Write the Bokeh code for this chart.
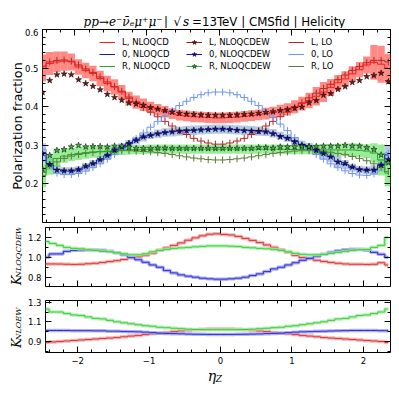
import numpy as np
from bokeh.plotting import figure
from bokeh.layouts import column, row
from bokeh.models import Range1d, FixedTicker, LinearAxis, Label, Legend, LegendItem
from bokeh.embed import file_html
from bokeh.resources import INLINE

# ---------------- data (bin centres of width 0.1 in eta_Z) ----------------
eta = np.round(np.arange(-2.45, 2.36, 0.1), 2)

L_nlo = [0.500,0.512,0.516,0.518,0.516,0.503,0.494,0.486,0.473,0.460,
         0.451,0.438,0.421,0.412,0.405,0.398,0.392,0.387,0.382,0.378,
         0.376,0.374,0.373,0.372,0.371,0.371,0.372,0.373,0.375,0.377,
         0.379,0.382,0.385,0.389,0.393,0.400,0.408,0.416,0.427,0.438,
         0.450,0.462,0.472,0.485,0.496,0.508,0.515,0.510,0.500]
L_err = [0.035,0.030,0.027,0.025,0.022,0.020,0.020,0.020,0.020,0.020,
         0.020,0.018,0.018,0.017,0.016,0.015,0.015,0.015,0.014,0.014,
         0.014,0.014,0.014,0.014,0.014,0.014,0.014,0.014,0.014,0.014,
         0.014,0.015,0.015,0.016,0.016,0.017,0.018,0.020,0.024,0.026,
         0.022,0.020,0.020,0.020,0.020,0.022,0.045,0.048,0.037]
L_ew = [0.437,0.468,0.483,0.485,0.483,0.470,0.460,0.453,0.444,0.432,
        0.424,0.417,0.410,0.407,0.404,0.398,0.394,0.390,0.386,0.383,
        0.381,0.380,0.379,0.378,0.378,0.378,0.378,0.379,0.380,0.381,
        0.383,0.385,0.387,0.390,0.393,0.396,0.399,0.410,0.416,0.430,
        0.434,0.445,0.452,0.463,0.468,0.478,0.481,0.487,0.465]
L_lo = [0.505,0.516,0.520,0.521,0.518,0.508,0.498,0.489,0.477,0.464,
        0.452,0.440,0.425,0.412,0.398,0.386,0.374,0.362,0.350,0.338,
        0.328,0.318,0.311,0.306,0.303,0.303,0.306,0.311,0.318,0.328,
        0.338,0.350,0.362,0.374,0.386,0.398,0.410,0.423,0.435,0.447,
        0.458,0.470,0.482,0.494,0.504,0.514,0.520,0.520,0.516]

Z_nlo = [0.280,0.252,0.237,0.233,0.233,0.236,0.244,0.252,0.262,0.273,
         0.285,0.295,0.304,0.312,0.320,0.326,0.330,0.333,0.335,0.337,
         0.338,0.339,0.340,0.341,0.342,0.342,0.341,0.340,0.339,0.338,
         0.337,0.335,0.331,0.325,0.319,0.311,0.302,0.296,0.288,0.278,
         0.270,0.258,0.250,0.242,0.237,0.235,0.236,0.248,0.275]
Z_err = [0.025,0.016,0.012,0.010,0.010,0.010,0.010,0.010,0.010,0.010,
         0.010,0.010,0.010,0.010,0.010,0.010,0.011,0.011,0.012,0.012,
         0.012,0.012,0.012,0.012,0.012,0.012,0.012,0.012,0.012,0.012,
         0.012,0.011,0.011,0.010,0.010,0.010,0.010,0.010,0.012,0.014,
         0.014,0.014,0.012,0.010,0.010,0.010,0.012,0.016,0.025]
Z_ew = [0.279,0.250,0.236,0.234,0.234,0.237,0.246,0.253,0.263,0.274,
        0.287,0.296,0.305,0.313,0.322,0.326,0.330,0.333,0.335,0.337,
        0.338,0.339,0.340,0.341,0.342,0.342,0.341,0.339,0.338,0.337,
        0.336,0.335,0.330,0.322,0.318,0.309,0.300,0.296,0.287,0.279,
        0.270,0.257,0.253,0.244,0.237,0.236,0.236,0.249,0.263]
Z_lo = [0.290,0.248,0.228,0.224,0.224,0.227,0.233,0.242,0.252,0.264,
        0.276,0.290,0.305,0.318,0.332,0.347,0.362,0.376,0.390,0.403,
        0.414,0.424,0.431,0.436,0.438,0.438,0.436,0.431,0.424,0.414,
        0.403,0.388,0.372,0.355,0.338,0.320,0.303,0.290,0.276,0.264,
        0.252,0.242,0.234,0.227,0.223,0.222,0.226,0.248,0.280]

R_nlo = [0.222,0.250,0.266,0.272,0.276,0.279,0.281,0.283,0.284,0.285,
         0.286,0.287,0.288,0.289,0.289,0.290,0.290,0.290,0.290,0.290,
         0.290,0.290,0.290,0.290,0.290,0.290,0.290,0.290,0.290,0.290,
         0.290,0.290,0.290,0.290,0.289,0.289,0.289,0.289,0.289,0.288,
         0.288,0.288,0.288,0.288,0.287,0.285,0.280,0.262,0.228]
R_err = [0.031,0.026,0.022,0.017,0.017,0.017,0.016,0.015,0.014,0.013,
         0.012,0.012,0.012,0.012,0.012,0.012,0.012,0.012,0.012,0.012,
         0.012,0.012,0.012,0.012,0.012,0.012,0.012,0.012,0.012,0.012,
         0.012,0.012,0.012,0.012,0.012,0.012,0.012,0.012,0.013,0.014,
         0.015,0.016,0.016,0.017,0.017,0.018,0.025,0.040,0.035]
R_ew = [0.238,0.274,0.287,0.289,0.296,0.300,0.296,0.297,0.297,0.296,
        0.298,0.298,0.295,0.292,0.292,0.292,0.293,0.293,0.292,0.292,
        0.292,0.292,0.292,0.292,0.292,0.292,0.292,0.292,0.292,0.292,
        0.294,0.294,0.293,0.296,0.296,0.296,0.297,0.297,0.297,0.298,
        0.298,0.298,0.300,0.298,0.298,0.294,0.289,0.275,0.255]
R_lo = [0.230,0.248,0.257,0.266,0.272,0.276,0.279,0.281,0.283,0.284,
        0.285,0.286,0.286,0.285,0.284,0.283,0.281,0.279,0.276,0.273,
        0.270,0.267,0.265,0.263,0.262,0.262,0.263,0.265,0.267,0.270,
        0.273,0.276,0.279,0.281,0.283,0.285,0.286,0.286,0.285,0.284,
        0.282,0.279,0.276,0.271,0.266,0.260,0.252,0.243,0.232]

# K-factor NLOQCDEW
kL1 = [0.933,0.933,0.932,0.930,0.928,0.930,0.935,0.940,0.948,0.957,
       0.966,0.978,0.992,1.005,1.020,1.040,1.070,1.095,1.120,1.145,
       1.172,1.196,1.216,1.232,1.236,1.230,1.225,1.210,1.190,1.170,
       1.148,1.124,1.100,1.075,1.050,1.020,0.998,0.985,0.970,0.958,
       0.948,0.940,0.933,0.930,0.930,0.928,0.930,0.945,0.922]
kZ1 = [1.000,1.034,1.034,1.060,1.070,1.072,1.074,1.074,1.070,1.060,
       1.045,1.025,1.000,0.975,0.950,0.923,0.900,0.866,0.843,0.823,
       0.810,0.800,0.790,0.783,0.780,0.780,0.783,0.790,0.800,0.816,
       0.833,0.856,0.883,0.900,0.923,0.945,0.970,0.990,1.010,1.030,
       1.050,1.065,1.075,1.080,1.080,1.070,1.050,1.030,1.000]
kR1 = [1.160,1.140,1.120,1.100,1.090,1.085,1.075,1.070,1.060,1.055,
       1.045,1.035,1.025,1.025,1.035,1.055,1.070,1.080,1.090,1.095,
       1.100,1.105,1.110,1.115,1.115,1.115,1.112,1.108,1.100,1.095,
       1.090,1.085,1.080,1.070,1.055,1.040,1.030,1.025,1.025,1.030,
       1.040,1.050,1.060,1.070,1.075,1.080,1.100,1.120,1.200]
# K-factor NLOEW
kL2 = [0.890,0.895,0.900,0.905,0.910,0.915,0.920,0.925,0.930,0.935,
       0.940,0.948,0.955,0.962,0.970,0.978,0.985,0.992,1.000,1.008,
       1.014,1.020,1.024,1.027,1.028,1.028,1.027,1.024,1.020,1.014,
       1.008,1.000,0.992,0.985,0.978,0.970,0.962,0.955,0.948,0.940,
       0.935,0.930,0.925,0.920,0.915,0.910,0.905,0.900,0.890]
kZ2 = [1.012,1.012,1.012,1.012,1.010,1.010,1.010,1.008,1.008,1.005,
       1.005,1.002,1.000,0.998,0.995,0.990,0.985,0.982,0.980,0.978,
       0.975,0.974,0.973,0.972,0.972,0.972,0.972,0.973,0.974,0.975,
       0.977,0.980,0.982,0.985,0.990,0.995,0.998,1.000,1.003,1.005,
       1.007,1.008,1.010,1.012,1.012,1.012,1.012,1.010,1.010]
kR2 = [1.230,1.200,1.200,1.185,1.170,1.165,1.150,1.135,1.130,1.115,
       1.100,1.090,1.080,1.070,1.060,1.055,1.045,1.040,1.035,1.030,
       1.025,1.022,1.020,1.020,1.020,1.020,1.020,1.020,1.022,1.025,
       1.030,1.035,1.040,1.045,1.055,1.060,1.070,1.080,1.090,1.100,
       1.115,1.130,1.135,1.150,1.165,1.170,1.185,1.200,1.230]

x_major = [-2, -1, 0, 1, 2]
x_major_labels = ["\u22122", "\u22121", "0", "1", "2"]
x_minor = [-2.4, -2.2, -1.8, -1.6, -1.4, -1.2, -0.8, -0.6, -0.4, -0.2,
           0.2, 0.4, 0.6, 0.8, 1.2, 1.4, 1.6, 1.8, 2.2]
y1_major = [0.2, 0.3, 0.4, 0.5, 0.6]
y1_labels = ["0.2", "0.3", "0.4", "0.5", "0.6"]
y1_minor = [round(0.1 + 0.02 * i, 2) for i in range(26)]
y2_major = [0.8, 1.0, 1.2]
y2_labels = ["0.8", "1.0", "1.2"]
y2_minor = [0.7, 0.9, 1.1, 1.3]
y3_major = [0.9, 1.1, 1.3]
y3_labels = ["0.9", "1.1", "1.3"]
y3_minor = [0.8, 1.0, 1.2]

# ---------------- layout helpers ----------------
FULLW = 392
FL = 42  # page x of every panel's frame left
XR = Range1d(-2.45, 2.38)
SANS = "DejaVu Sans"
SERIF = "DejaVu Serif"
TICK_FS = "8.5px"


def make_fig(w, h, yr, left, top, bottom):
    p = figure(width=w, height=h, x_range=XR, y_range=Range1d(*yr),
               output_backend="svg", toolbar_location=None,
               min_border_left=left, min_border_right=2,
               min_border_top=top, min_border_bottom=bottom,
               x_axis_location=None, y_axis_location=None)
    p.outline_line_color = "black"
    p.outline_line_width = 1
    p.grid.visible = False
    p.background_fill_color = "white"
    p.border_fill_color = "white"
    return p


def text_fig(w, h, left, right, top, bottom):
    p = figure(width=w, height=h, x_range=Range1d(0, 1), y_range=Range1d(0, 1),
               output_backend="svg", toolbar_location=None,
               min_border_left=left, min_border_right=right,
               min_border_top=top, min_border_bottom=bottom,
               x_axis_location=None, y_axis_location=None)
    p.outline_line_color = None
    p.grid.visible = False
    p.border_fill_color = "white"
    p.background_fill_color = "white"
    return p


def add_axes(p, ymaj, ylabs, ymin, xlabels):
    axes = {}
    for loc in ("below", "above", "left", "right"):
        isx = loc in ("below", "above")
        ax = LinearAxis(ticker=FixedTicker(ticks=x_major if isx else ymaj,
                                           minor_ticks=x_minor if isx else ymin))
        ax.major_tick_in = 6
        ax.major_tick_out = 0
        ax.minor_tick_in = 3
        ax.minor_tick_out = 0
        ax.axis_line_color = None
        ax.major_tick_line_color = "black"
        ax.minor_tick_line_color = "black"
        show = (loc == "below" and xlabels) or loc == "left"
        if show:
            ax.major_label_text_font = SANS
            ax.major_label_text_font_size = TICK_FS
            ax.major_label_text_color = "black"
            ax.major_label_standoff = 4
            if isx:
                ax.major_label_overrides = dict(zip(x_major, x_major_labels))
            else:
                ax.major_label_overrides = dict(zip(ymaj, ylabs))
        else:
            ax.major_label_text_font_size = "0px"
            ax.major_label_text_color = None
            ax.major_label_standoff = 0
        p.add_layout(ax, loc)
        axes[loc] = ax
    return axes


def lab(p, fx0, fb, xp, yp, text, font=SANS, size="12px", style="normal",
        align="left", baseline="middle", angle=0.0):
    # (fx0, fb): page position of the text figure's frame left / bottom
    p.add_layout(Label(x=xp - fx0, y=fb - yp, x_units="screen", y_units="screen",
                       text=text, text_font=font, text_font_size=size,
                       text_font_style=style, text_align=align,
                       text_baseline=baseline, angle=angle, text_color="black"))


left = eta - 0.05
right = eta + 0.05

# ---------------- title ----------------
tfig = text_fig(FULLW, 28, FL, 2, 0, 0)
TB = 28
lab(tfig, FL, TB, 83, 21.5, "pp\u2192e\u207b\u03bd\u0304\u2091\u03bc\u207a\u03bc\u207b",
    font=SERIF, size="12px", style="italic")
lab(tfig, FL, TB, 165.5, 21.5, "|", size="11.8px", align="center")
lab(tfig, FL, TB, 173, 21.5, "\u221a", size="12px")
lab(tfig, FL, TB, 182.5, 21.5, "s", font=SERIF, size="12px", style="italic")
lab(tfig, FL, TB, 191.5, 21.5, "=13TeV | CMSfid | Helicity", size="11.8px")

# ---------------- main panel ----------------
p1 = make_fig(FULLW, 196, (0.1, 0.6), FL, 1, 2)
p1.extra_y_ranges = {"legend_only": Range1d(-1.0, 0.0)}
ax1 = add_axes(p1, y1_major, y1_labels, y1_minor, xlabels=False)
ax1["left"].axis_label = "Polarization fraction"
ax1["left"].axis_label_text_font = SANS
ax1["left"].axis_label_text_font_size = "12.8px"
ax1["left"].axis_label_text_font_style = "normal"
ax1["left"].axis_label_text_color = "black"
ax1["left"].axis_label_standoff = -3

for vals, err, col, alpha in [(L_nlo, L_err, "#ff3b30", 0.6),
                              (Z_nlo, Z_err, "#5b86c5", 0.45),
                              (R_nlo, R_err, "#44dd44", 0.55)]:
    v = np.array(vals); e = np.array(err)
    p1.quad(left=left, right=right, bottom=v - e, top=v + e,
            fill_color=col, fill_alpha=alpha, line_color=None)

lo_r = {}
for key, vals, col in [("L", L_lo, "#b02a2a"), ("0", Z_lo, "#6d96f0"), ("R", R_lo, "#5d7a3c")]:
    s = p1.step(eta, vals, mode="center", line_color=col, line_width=1)
    m = p1.scatter(eta, vals, marker="dash", angle=np.pi / 2, size=7,
                   line_color=col, line_width=1)
    lo_r[key] = [s, m]

nlo_r = {}
for key, vals, col in [("L", L_nlo, "#ff1a1a"), ("0", Z_nlo, "#1c1ca8"), ("R", R_nlo, "#2ca02c")]:
    nlo_r[key] = [p1.step(eta, vals, mode="center", line_color=col, line_width=1)]

ew_r = {}
for key, vals, col, lcol in [("L", L_ew, "#7a1515", "#8b1a1a"),
                             ("0", Z_ew, "#1010a0", "#1515c8"),
                             ("R", R_ew, "#3cb43c", "#33bb33")]:
    # connecting line mapped to a range outside the frame: it only shows in the legend
    ln = p1.line(eta, vals, y_range_name="legend_only", line_color=lcol, line_width=1)
    st = p1.scatter(eta, vals, marker="star", size=6.5, fill_color=col,
                    line_color="black", line_width=0.5)
    ew_r[key] = [ln, st]


def add_legend(p, items, xpage):
    lg = Legend(items=items, location=(xpage - FL, 150), orientation="vertical",
                glyph_width=16, glyph_height=12, label_height=12, label_standoff=7,
                spacing=0, padding=0, margin=0, border_line_color=None,
                background_fill_alpha=0, label_text_font=SANS,
                label_text_font_size="8.5px", label_text_color="black")
    p.add_layout(lg)


add_legend(p1, [LegendItem(label="L, NLOQCD", renderers=nlo_r["L"]),
                LegendItem(label="0, NLOQCD", renderers=nlo_r["0"]),
                LegendItem(label="R, NLOQCD", renderers=nlo_r["R"])], 99)
add_legend(p1, [LegendItem(label="L, NLOQCDEW", renderers=ew_r["L"]),
                LegendItem(label="0, NLOQCDEW", renderers=ew_r["0"]),
                LegendItem(label="R, NLOQCDEW", renderers=ew_r["R"])], 186)
add_legend(p1, [LegendItem(label="L, LO", renderers=lo_r["L"]),
                LegendItem(label="0, LO", renderers=lo_r["0"]),
                LegendItem(label="R, LO", renderers=lo_r["R"])], 288)

# ---------------- K NLOQCDEW panel ----------------
LW = 24
l2 = text_fig(LW, 69, 0, 0, 3, 7)
p2 = make_fig(FULLW - LW, 69, (0.706, 1.30), FL - LW, 3, 7)
add_axes(p2, y2_major, y2_labels, y2_minor, xlabels=False)
for vals, col, light in [(kL1, "#d43a3a", "#f2a0a0"),
                         (kZ1, "#2a2ad8", "#a0a0f0"),
                         (kR1, "#3ccc3c", "#a6eea6")]:
    p2.step(eta, vals, mode="center", line_color=light, line_width=3.5, line_alpha=0.8)
    p2.step(eta, vals, mode="center", line_color=col, line_width=1)
B2 = 286
lab(l2, 0, B2, 15.8, 284.8, "K", font=SERIF, size="13px", style="italic",
    baseline="alphabetic", angle=np.pi / 2)
lab(l2, 0, B2, 17.8, 277.5, "NLOQCDEW", font=SERIF, size="8px", style="italic",
    baseline="alphabetic", angle=np.pi / 2)

# ---------------- K NLOEW panel ----------------
l3 = text_fig(LW, 75, 0, 0, 7, 16)
p3 = make_fig(FULLW - LW, 75, (0.788, 1.317), FL - LW, 7, 16)
add_axes(p3, y3_major, y3_labels, y3_minor, xlabels=True)
for vals, col, light in [(kL2, "#d43a3a", "#f2a0a0"),
                         (kZ2, "#2a2ad8", "#a0a0f0"),
                         (kR2, "#3ccc3c", "#a6eea6")]:
    p3.step(eta, vals, mode="center", line_color=light, line_width=3.5, line_alpha=0.8)
    p3.step(eta, vals, mode="center", line_color=col, line_width=1)
B3 = 352
lab(l3, 0, B3, 15.8, 347.5, "K", font=SERIF, size="13px", style="italic",
    baseline="alphabetic", angle=np.pi / 2)
lab(l3, 0, B3, 17.8, 340, "NLOEW", font=SERIF, size="8px", style="italic",
    baseline="alphabetic", angle=np.pi / 2)

# ---------------- x label ----------------
xfig = text_fig(FULLW, 28, FL, 2, 0, 0)
B4 = 396
lab(xfig, FL, B4, 211.5, 375, "\u03b7", font=SERIF, size="14px", style="italic", align="center")
lab(xfig, FL, B4, 218.5, 378.5, "Z", font=SERIF, size="9px", style="italic", align="center")

layout = column(tfig, p1, row(l2, p2, spacing=0), row(l3, p3, spacing=0), xfig, spacing=0)
open("out.html", "w").write(file_html(layout, INLINE))
